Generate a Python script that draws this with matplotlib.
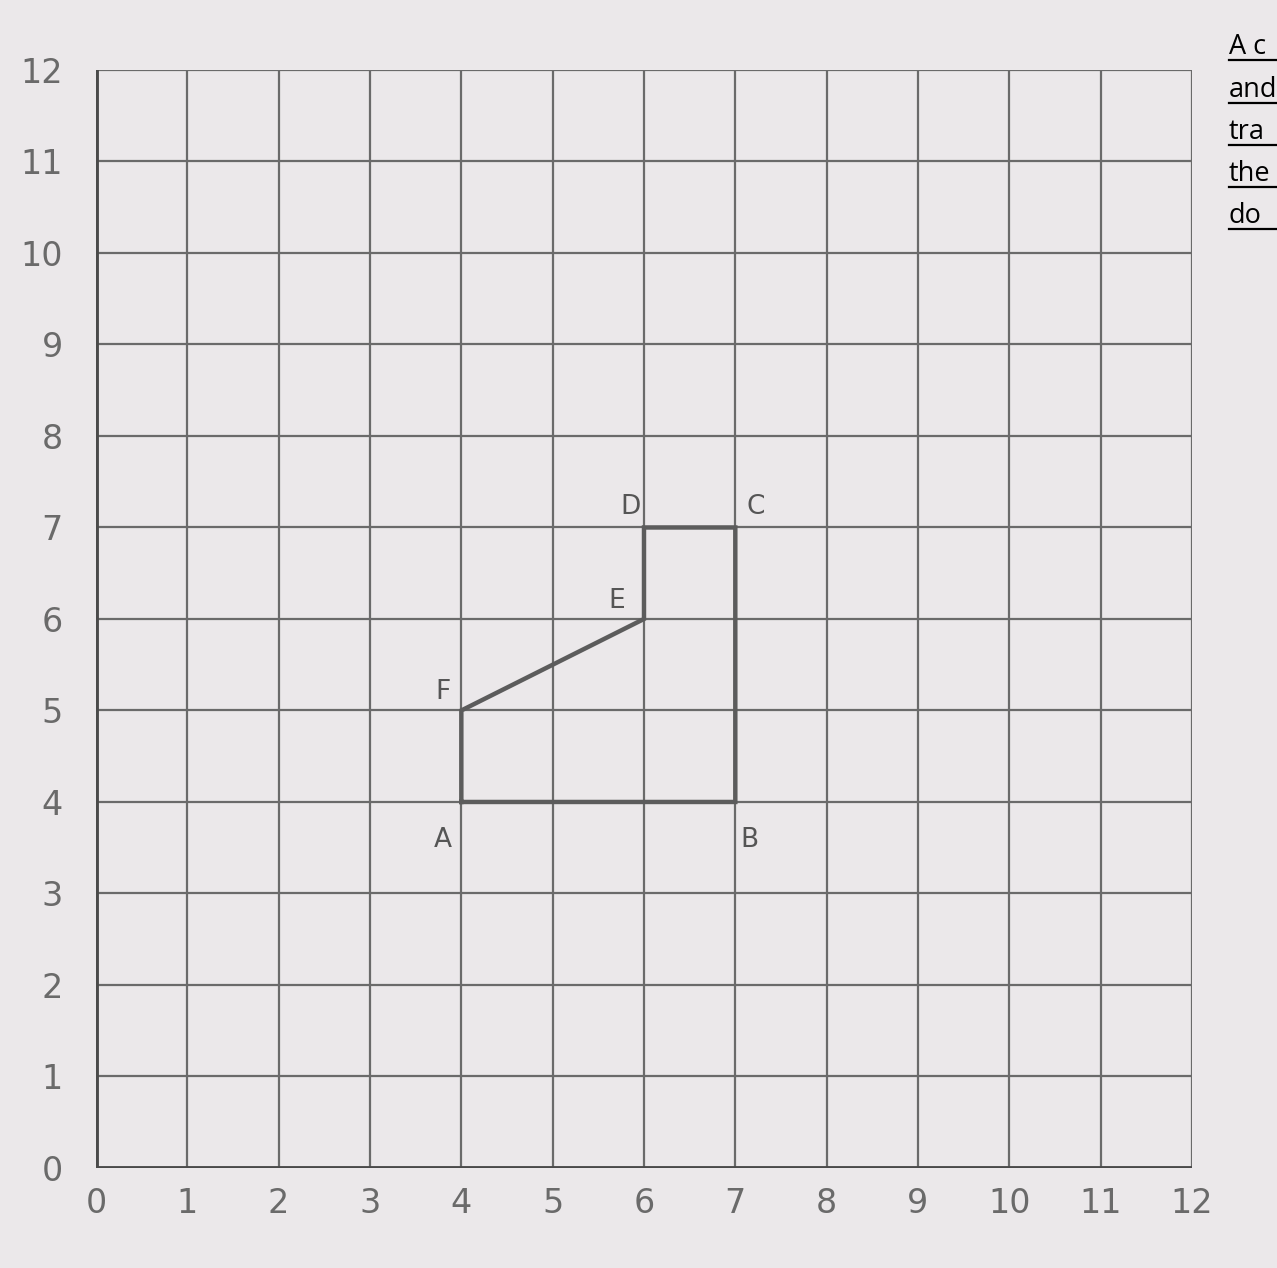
import matplotlib.pyplot as plt
from matplotlib.lines import Line2D

# ── Data ──────────────────────────────────────────────
ticks = list(range(0, 13))
tick_labels = [str(t) for t in ticks]

# shape ABCDEF
shape_names = ["A", "B", "C", "D", "E", "F"]
shape_x = [4, 7, 7, 6, 6, 4]
shape_y = [4, 4, 7, 7, 6, 5]

# worksheet text fragments on the right
side_text = ["A c", "and", "tra", "the", "do"]

PAPER = "#ebe8ea"
INK = "#5c5c5c"

fig = plt.figure(figsize=(12.77, 12.68), dpi=100, facecolor=PAPER)
ax = fig.add_axes([0.0752, 0.0789, 0.8582, 0.8659])
ax.set_facecolor(PAPER)

# grid
for t in ticks[1:]:
    ax.plot([t, t], [0, 12], color="#6a6a6a", lw=1.6, zorder=1, solid_capstyle="butt")
    ax.plot([0, 12], [t, t], color="#6a6a6a", lw=1.6, zorder=1, solid_capstyle="butt")
# axes lines
ax.plot([0, 0], [0, 12], color="#4a4a4a", lw=3.5, zorder=2)
ax.plot([0, 12], [0, 0], color="#4a4a4a", lw=3.5, zorder=2)

ax.set_xlim(0, 12)
ax.set_ylim(0, 12)
for s in ax.spines.values():
    s.set_visible(False)
ax.set_xticks(ticks)
ax.set_xticklabels(tick_labels)
ax.set_yticks(ticks)
ax.set_yticklabels(tick_labels)
ax.tick_params(length=0, labelsize=24, labelcolor="#6a6a6a", pad=14)
ax.tick_params(axis="y", pad=24)

# shape
px = shape_x + [shape_x[0]]
py = shape_y + [shape_y[0]]
ax.plot(px, py, color=INK, lw=3.2, zorder=3, solid_joinstyle="miter")

label_off = {"A": (-0.2, -0.42), "B": (0.15, -0.42), "C": (0.22, 0.22),
             "D": (-0.15, 0.22), "E": (-0.3, 0.2), "F": (-0.2, 0.2)}
for n, x, y in zip(shape_names, shape_x, shape_y):
    dx, dy = label_off[n]
    ax.text(x + dx, y + dy, n, fontsize=19, color="#555555",
            ha="center", va="center", zorder=4)

# side text at the right edge
x0 = 1229 / 1277
baselines = [54, 97, 139, 181, 223]
for txt, b in zip(side_text, baselines):
    yb = 1 - b / 1268
    fig.text(x0, yb, txt, fontsize=19.5, color="black", family="Open Sans",
             ha="left", va="baseline")
    fig.add_artist(Line2D([x0, 1.0], [yb - 6 / 1268, yb - 6 / 1268],
                          transform=fig.transFigure, color="black", lw=1.6))

fig.savefig("out.png", dpi=100, facecolor=PAPER)
